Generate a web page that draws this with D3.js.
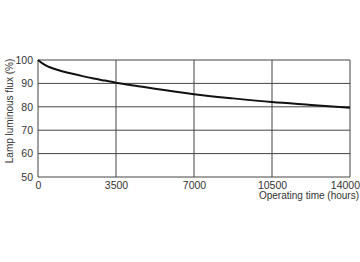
<!DOCTYPE html>
<html>
<head>
<meta charset="utf-8">
<script src="https://cdn.jsdelivr.net/npm/d3@7"></script>
<style>
  body { margin: 0; background: #fff; }
  text { font-family: "Liberation Sans", Arial, sans-serif; fill: #333; }
</style>
</head>
<body>
<div id="chart"></div>
<script>
// 数据
const hours = [0, 250, 500, 1000, 1500, 2000, 2500, 3000, 3500, 4500, 5250, 7000, 8750, 10500, 12250, 14000];
const flux = [100, 98.2, 97.0, 95.4, 94.2, 93.1, 92.1, 91.2, 90.3, 88.8, 87.7, 85.4, 83.6, 82.0, 80.8, 79.6];
const xTicks = [0, 3500, 7000, 10500, 14000];
const yTicks = [50, 60, 70, 80, 90, 100];

const W = 360, H = 262;
const margin = { top: 60, right: 10, bottom: 85, left: 38 };
const width = W - margin.left - margin.right;
const height = H - margin.top - margin.bottom;

const svg = d3.select("#chart").append("svg")
    .attr("width", W)
    .attr("height", H);

const g = svg.append("g")
    .attr("transform", `translate(${margin.left},${margin.top})`);

const x = d3.scaleLinear().domain([0, 14000]).range([0, width]);
const y = d3.scaleLinear().domain([50, 100]).range([height, 0]);

// 网格
g.selectAll(".hgrid").data(yTicks).enter().append("line")
    .attr("x1", 0).attr("x2", width)
    .attr("y1", d => y(d)).attr("y2", d => y(d))
    .attr("stroke", "#444").attr("stroke-width", 1);

g.selectAll(".vgrid").data(xTicks).enter().append("line")
    .attr("x1", d => x(d)).attr("x2", d => x(d))
    .attr("y1", 0).attr("y2", height)
    .attr("stroke", "#444").attr("stroke-width", 1);

// 轴标签
const xAxis = g.append("g")
    .attr("transform", `translate(0,${height})`)
    .call(d3.axisBottom(x).tickValues(xTicks).tickSize(0).tickPadding(5).tickFormat(d3.format("d")));
xAxis.select(".domain").remove();
xAxis.selectAll("text").style("font-size", "10.5px").attr("fill", "#333");
// 最后一个标签贴右边
xAxis.selectAll("text").filter(d => d === 14000)
    .attr("text-anchor", "end").attr("x", margin.right - 0.5);

const yAxis = g.append("g")
    .call(d3.axisLeft(y).tickValues(yTicks).tickSize(0).tickPadding(5));
yAxis.select(".domain").remove();
yAxis.selectAll("text").style("font-size", "10.5px").attr("fill", "#333");

// 曲线
g.append("path")
    .datum(hours.map((h, i) => [h, flux[i]]))
    .attr("fill", "none")
    .attr("stroke", "#111")
    .attr("stroke-width", 2)
    .attr("d", d3.line().x(d => x(d[0])).y(d => y(d[1])).curve(d3.curveMonotoneX));

// 坐标轴标题
svg.append("text")
    .attr("x", W - 1)
    .attr("y", 199)
    .attr("text-anchor", "end")
    .style("font-size", "10px")
    .text("Operating time (hours)");

svg.append("text")
    .attr("transform", "rotate(-90)")
    .attr("x", -111)
    .attr("y", 13)
    .attr("text-anchor", "middle")
    .style("font-size", "10px")
    .text("Lamp luminous flux (%)");
</script>
</body>
</html>
